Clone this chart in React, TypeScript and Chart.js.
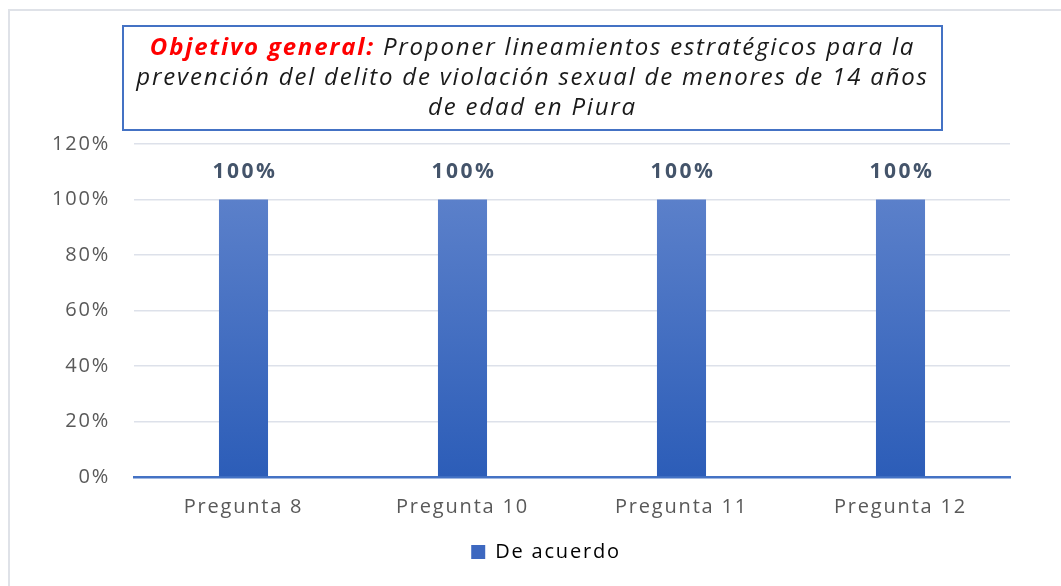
import React, { useEffect, useRef } from "react";
import { Chart, registerables } from "chart.js";

Chart.register(...registerables);

const categories = ["Pregunta 8", "Pregunta 10", "Pregunta 11", "Pregunta 12"];
const deAcuerdo = [100, 100, 100, 100];
const seriesName = "De acuerdo";
const yMax = 120;
const yStep = 20;

const FONT = "'Open Sans', 'Liberation Sans', sans-serif";
const SPACING = "1.8px";

const spacing = {
  id: "spacing",
  beforeLayout(chart: any) {
    chart.ctx.letterSpacing = SPACING;
  },
  afterLayout(chart: any) {
    const lg = chart.legend;
    if (lg) {
      lg.left = 82;
      lg.width = lg.right - lg.left;
    }
  },
  beforeDraw(chart: any) {
    chart.ctx.letterSpacing = SPACING;
  },
};

const dataLabels = {
  id: "dataLabels",
  afterDatasetsDraw(chart: any) {
    const ctx = chart.ctx;
    ctx.save();
    ctx.letterSpacing = "2.5px";
    ctx.font = `bold 21px ${FONT}`;
    ctx.fillStyle = "#44546a";
    ctx.textAlign = "center";
    ctx.textBaseline = "middle";
    chart.getDatasetMeta(0).data.forEach((bar: any, i: number) => {
      ctx.fillText(`${deAcuerdo[i]}%`, bar.x + 1.5, bar.y - 27);
    });
    ctx.restore();
  },
};

export default function App() {
  const ref = useRef<HTMLCanvasElement>(null);
  useEffect(() => {
    if (!ref.current) return;
    const chart = new Chart(ref.current, {
      type: "bar",
      data: {
        labels: categories,
        datasets: [
          {
            label: seriesName,
            data: deAcuerdo,
            backgroundColor: (c: any) => {
              const ch = c.chart;
              const y = ch.scales?.y;
              if (!ch.chartArea || !y) return "#4472c4";
              const g = ch.ctx.createLinearGradient(0, y.getPixelForValue(100), 0, y.getPixelForValue(0));
              g.addColorStop(0, "#5b80ca");
              g.addColorStop(1, "#2c5db8");
              return g;
            },
            borderWidth: 0,
            categoryPercentage: 1,
            barPercentage: 0.224,
          },
        ],
      },
      options: {
        animation: false,
        responsive: false,
        layout: { padding: { top: 144, right: 51, bottom: 14, left: 0 } },
        scales: {
          x: {
            grid: { display: false, drawTicks: false },
            border: { display: true, color: "#4472c4", width: 2.5 },
            ticks: { color: "#595959", font: { family: FONT, size: 20 }, padding: 18 },
            afterFit: (s: any) => {
              s.height = 55;
            },
          },
          y: {
            min: 0,
            max: yMax,
            grid: {
              color: (c: any) => (c.tick && c.tick.value === 0 ? "rgba(0,0,0,0)" : "#dde1ea"),
              lineWidth: 1.5,
              drawTicks: false,
            },
            border: { display: false },
            ticks: {
              stepSize: yStep,
              color: "#595959",
              font: { family: FONT, size: 20 },
              padding: 24,
              callback: (v: any) => `${v}%`,
            },
            afterFit: (s: any) => {
              s.width = 134;
            },
          },
        },
        plugins: {
          legend: {
            position: "bottom",
            labels: {
              color: "#595959",
              font: { family: FONT, size: 20 },
              boxWidth: 14,
              boxHeight: 14,
              padding: 10,
              generateLabels: () => [
                {
                  text: seriesName,
                  fillStyle: "#3d68c0",
                  strokeStyle: "#3d68c0",
                  lineWidth: 0,
                  datasetIndex: 0,
                } as any,
              ],
            },
          },
          tooltip: { enabled: false },
        },
      },
      plugins: [spacing, dataLabels],
    });
    return () => chart.destroy();
  }, []);

  return (
    <div style={{ position: "fixed", left: 0, top: 0, width: 1061, height: 586, background: "#fff", overflow: "hidden" }}>
      <div
        style={{
          position: "absolute",
          left: 8,
          top: 9,
          width: 1100,
          height: 600,
          borderTop: "2px solid #dfe2e8",
          borderLeft: "2px solid #dfe2e8",
        }}
      />
      <canvas ref={ref} width={1061} height={586} style={{ position: "absolute", left: 0, top: 0 }} />
      <div
        style={{
          position: "absolute",
          left: 122,
          top: 25,
          width: 817,
          height: 98,
          border: "2px solid #4472c4",
          boxSizing: "content-box",
          fontFamily: FONT,
          fontStyle: "italic",
          fontSize: 24,
          letterSpacing: "1.8px",
          lineHeight: "30px",
          color: "#1a1a1a",
          textAlign: "center",
          paddingTop: 4,
          whiteSpace: "nowrap",
        }}
      >
        <span style={{ color: "#ff0000", fontWeight: "bold" }}>Objetivo general:</span> Proponer lineamientos estratégicos para la
        <br />
        prevención del delito de violación sexual de menores de 14 años
        <br />
        de edad en Piura
      </div>
    </div>
  );
}
